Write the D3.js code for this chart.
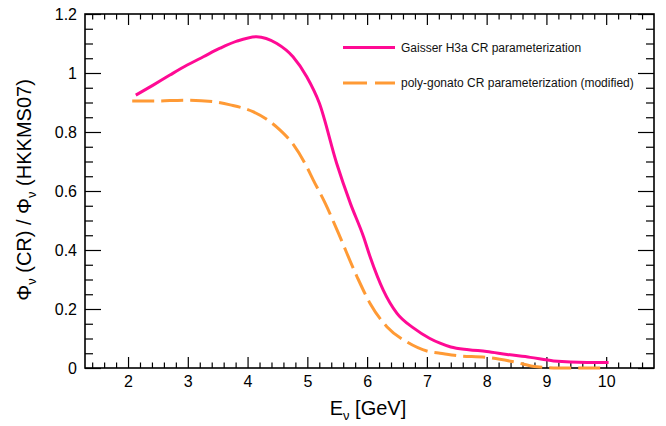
<!DOCTYPE html>
<html>
<head>
<meta charset="utf-8">
<script src="https://cdn.jsdelivr.net/npm/d3@7"></script>
<style>
  body { margin: 0; background: #fff; }
  svg { font-family: "Liberation Sans", Arial, Helvetica, sans-serif; }
</style>
</head>
<body>
<div id="chart"></div>
<script>
// values
var gaisserX = [2.13, 2.42, 2.70, 2.99, 3.26, 3.54, 3.82, 4.15, 4.49, 4.76, 4.99, 5.20, 5.49, 5.72, 5.94, 6.05, 6.27, 6.50, 6.78, 7.05, 7.22, 7.40, 7.70, 8.0, 8.34, 8.73, 9.12, 9.68, 10.04]
var gaisserY = [0.925, 0.959, 0.993, 1.027, 1.055, 1.084, 1.108, 1.123, 1.10, 1.055, 0.987, 0.898, 0.694, 0.558, 0.445, 0.377, 0.264, 0.185, 0.135, 0.10, 0.084, 0.071, 0.062, 0.056, 0.046, 0.036, 0.024, 0.019, 0.019]

var polyX = [2.07, 2.42, 2.98, 3.42, 3.71, 4.09, 4.32, 4.54, 4.77, 4.99, 5.10, 5.30, 5.52, 5.83, 6.05, 6.33, 6.66, 7.05, 7.22, 7.50, 8.0, 8.45, 8.84, 9.2, 9.98]
var polyY = [0.905, 0.905, 0.908, 0.903, 0.892, 0.869, 0.843, 0.807, 0.756, 0.682, 0.637, 0.558, 0.457, 0.31, 0.219, 0.14, 0.089, 0.055, 0.05, 0.042, 0.036, 0.021, 0.004, 0, 0]

var xMajor = [2, 3, 4, 5, 6, 7, 8, 9, 10]
var yMajor = [0, 0.2, 0.4, 0.6, 0.8, 1, 1.2]

var legendLabels = ["Gaisser H3a CR parameterization", "poly-gonato CR parameterization (modified)"]
var lineColors = ["#ff0a94", "#ff9a35"]

var width = 666, height = 426
var frame = {left: 85, right: 654, top: 14, bottom: 368}

var x = d3.scaleLinear().domain([1.28, 10.8]).range([frame.left, frame.right])
var y = d3.scaleLinear().domain([0, 1.2]).range([frame.bottom, frame.top])

var xMinor = d3.range(1.4, 10.8, 0.2).filter(v => Math.abs(v - Math.round(v)) > 0.01)
var yMinor = d3.range(0.05, 1.2, 0.05).filter(v => Math.abs(v * 5 - Math.round(v * 5)) > 0.01)

var svg = d3.select("#chart")
            .append("svg")
            .attr("width", width)
            .attr("height", height)

function styleAxis(g) {
  g.select(".domain").remove()
  g.selectAll(".tick line").attr("stroke", "#000").attr("stroke-width", 1.2)
  g.selectAll(".tick text").attr("fill", "#000").attr("font-size", 16)
}

// bottom
svg.append("g")
   .attr("transform", `translate(0,${frame.bottom})`)
   .call(d3.axisBottom(x).tickValues(xMajor).tickSize(-11).tickPadding(8).tickFormat(d3.format("d")))
   .call(styleAxis)
svg.append("g")
   .attr("transform", `translate(0,${frame.bottom})`)
   .call(d3.axisBottom(x).tickValues(xMinor).tickSize(-5.5).tickFormat(""))
   .call(styleAxis)
// top
svg.append("g")
   .attr("transform", `translate(0,${frame.top})`)
   .call(d3.axisTop(x).tickValues(xMajor).tickSize(-11).tickFormat(""))
   .call(styleAxis)
svg.append("g")
   .attr("transform", `translate(0,${frame.top})`)
   .call(d3.axisTop(x).tickValues(xMinor).tickSize(-5.5).tickFormat(""))
   .call(styleAxis)
// left
svg.append("g")
   .attr("transform", `translate(${frame.left},0)`)
   .call(d3.axisLeft(y).tickValues(yMajor).tickSize(-16).tickPadding(8).tickFormat(d3.format("~g")))
   .call(styleAxis)
svg.append("g")
   .attr("transform", `translate(${frame.left},0)`)
   .call(d3.axisLeft(y).tickValues(yMinor).tickSize(-8).tickFormat(""))
   .call(styleAxis)
// right
svg.append("g")
   .attr("transform", `translate(${frame.right},0)`)
   .call(d3.axisRight(y).tickValues(yMajor).tickSize(-16).tickFormat(""))
   .call(styleAxis)
svg.append("g")
   .attr("transform", `translate(${frame.right},0)`)
   .call(d3.axisRight(y).tickValues(yMinor).tickSize(-8).tickFormat(""))
   .call(styleAxis)

svg.append("rect")
   .attr("x", frame.left)
   .attr("y", frame.top)
   .attr("width", frame.right - frame.left)
   .attr("height", frame.bottom - frame.top)
   .attr("fill", "none")
   .attr("stroke", "#000")
   .attr("stroke-width", 1.6)

var line = d3.line()
             .x(d => x(d[0]))
             .y(d => y(d[1]))
             .curve(d3.curveMonotoneX)

svg.append("path")
   .datum(d3.zip(polyX, polyY))
   .attr("d", line)
   .attr("fill", "none")
   .attr("stroke", lineColors[1])
   .attr("stroke-width", 3)
   .attr("stroke-dasharray", "22,7")

svg.append("path")
   .datum(d3.zip(gaisserX, gaisserY))
   .attr("d", line)
   .attr("fill", "none")
   .attr("stroke", lineColors[0])
   .attr("stroke-width", 3)

// legend
var legend = svg.append("g")
legendLabels.forEach(function (label, i) {
  var ly = 47.5 + i * 35.5
  legend.append("line")
        .attr("x1", 343).attr("x2", 395)
        .attr("y1", ly).attr("y2", ly)
        .attr("stroke", lineColors[i])
        .attr("stroke-width", 3)
        .attr("stroke-dasharray", i == 1 ? "24,8" : null)
  legend.append("text")
        .attr("x", 401)
        .attr("y", ly + 4)
        .attr("font-size", 12)
        .attr("fill", "#111")
        .text(label)
})

// axis titles
var xt = svg.append("text")
            .attr("x", 368)
            .attr("y", 415)
            .attr("text-anchor", "middle")
            .attr("font-size", 20)
xt.append("tspan").text("E")
xt.append("tspan").attr("font-size", 13).attr("dy", 5).text("ν")
xt.append("tspan").attr("dy", -5).text(" [GeV]")

var yt = svg.append("text")
            .attr("transform", "translate(31,190) rotate(-90)")
            .attr("text-anchor", "middle")
            .attr("font-size", 20)
yt.append("tspan").text("Φ")
yt.append("tspan").attr("font-size", 13).attr("dy", 5).text("ν")
yt.append("tspan").attr("dy", -5).text(" (CR) / Φ")
yt.append("tspan").attr("font-size", 13).attr("dy", 5).text("ν")
yt.append("tspan").attr("dy", -5).text(" (HKKMS07)")
</script>
</body>
</html>
